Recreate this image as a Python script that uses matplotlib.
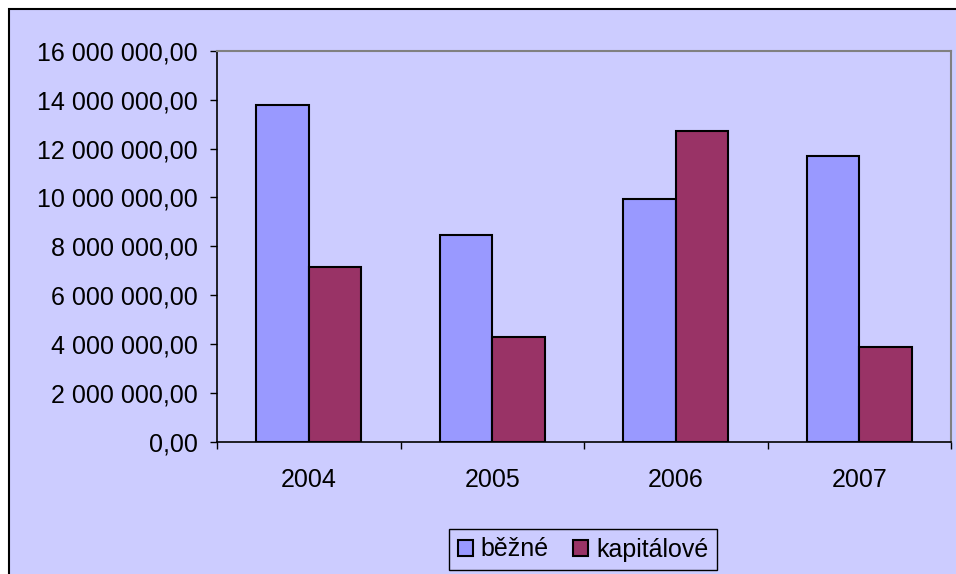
import numpy as np
import matplotlib
matplotlib.use("Agg")
import matplotlib.pyplot as plt
from matplotlib.patches import Rectangle
from matplotlib.ticker import FuncFormatter

plt.rcParams['font.family'] = ['Liberation Sans', 'DejaVu Sans']

# Data
years = ["2004", "2005", "2006", "2007"]
bezne = [13770000, 8480000, 9940000, 11680000]
kapitalove = [7160000, 4300000, 12720000, 3890000]
series_names = ["běžné", "kapitálové"]

fig = plt.figure(figsize=(9.56, 5.74), dpi=100)
fig.patch.set_facecolor("white")

# lavender chart area with black frame (runs past the right and bottom edges)
bg = Rectangle((9 / 956, -0.05), 1.1, 1 - 8.5 / 574 + 0.05,
               transform=fig.transFigure, facecolor="#CCCCFF",
               edgecolor="black", linewidth=1.5, zorder=-1)
fig.patches.append(bg)

ax = fig.add_axes([217 / 956, 1 - 442 / 574, (951 - 217) / 956, (442 - 50.7) / 574])
ax.set_facecolor("#CCCCFF")

x = np.arange(len(years))
w = 0.2857
ax.bar(x - w / 2, bezne, w, color="#9999FF", edgecolor="black", linewidth=1.5,
       label=series_names[0], zorder=3)
ax.bar(x + w / 2, kapitalove, w, color="#993366", edgecolor="black", linewidth=1.5,
       label=series_names[1], zorder=3)

ax.set_xlim(-0.5, len(years) - 0.5)
ax.set_ylim(0, 16000000)
ax.set_yticks(np.arange(0, 16000001, 2000000))


def fmt(v, pos):
    return f"{v:,.2f}".replace(",", " ").replace(".", ",")


ax.yaxis.set_major_formatter(FuncFormatter(fmt))

ax.set_xticks(x)
ax.set_xticklabels(years)
ax.set_xticks(np.arange(-0.5, len(years)), minor=True)
ax.tick_params(axis="x", which="major", length=0, pad=19, labelsize=18)
ax.tick_params(axis="x", which="minor", length=5, width=1, direction="out")
ax.tick_params(axis="y", length=5, width=1, direction="out", pad=9, labelsize=18)

for side in ["top", "right"]:
    ax.spines[side].set_color("#808080")
    ax.spines[side].set_linewidth(1.5)
for side in ["left", "bottom"]:
    ax.spines[side].set_color("black")
    ax.spines[side].set_linewidth(1.2)

leg = fig.legend(loc="center", bbox_to_anchor=(583 / 956, 1 - 549.5 / 574),
                 ncol=2, fontsize=18, frameon=True, fancybox=False,
                 edgecolor="black", facecolor="#CCCCFF", framealpha=1,
                 handlelength=0.6, handleheight=0.6, handletextpad=0.3,
                 columnspacing=1.0, borderpad=0.35, borderaxespad=0)
leg.get_frame().set_linewidth(1.0)

fig.savefig("out.png", dpi=100, facecolor=fig.get_facecolor())
